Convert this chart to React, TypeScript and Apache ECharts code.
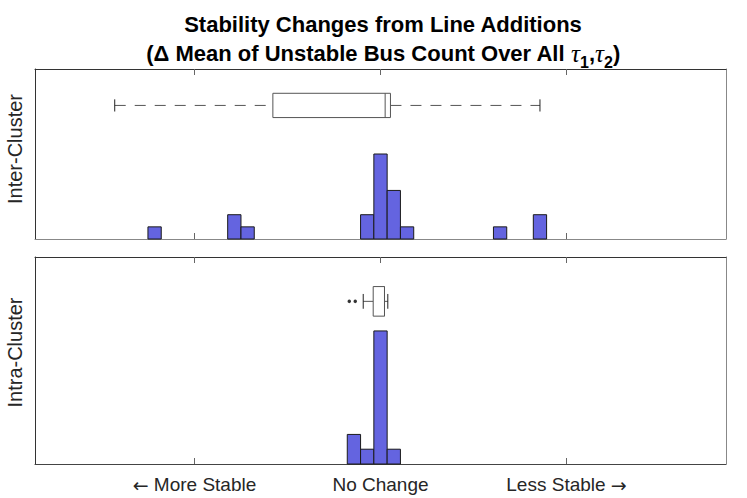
import React, { useEffect, useRef } from "react";
import * as echarts from "echarts";

// Histogram bins (bin-index units, width 1) and counts
const interBins = [-17, -11, -10, -1, 0, 1, 2, 9, 12];
const interCounts = [1, 2, 1, 2, 7, 4, 1, 1, 2];
const intraBins = [-2, -1, 0, 1];
const intraCounts = [2, 1, 9, 1];

// Box plot stats: [whiskerLow, q1, median, q3, whiskerHigh]
const interBox = [-20, -8.1, 0.35, 0.75, 12];
const intraBox = [-1.3, -0.55, 0.3, 0.3, 0.55];
const intraOutliers = [-2.35, -1.9];

// Tick labels
const tickValues = [-14, 0, 14];
const tickLabels = ["{a|←} More Stable", "No Change", "Less Stable {a|→}"];

const panelNames = ["Inter-Cluster", "Intra-Cluster"];

const X_MIN = -26;
const X_MAX = 26;
const Y_MAX = 14;
const BOX_Y = 11;
const BOX_HALF = 1;
const CAP_HALF = 0.5;

const FONT = "'Liberation Sans', Arial, Helvetica, sans-serif";
const BAR_FILL = "#6464e0";

function histRender(params: any, api: any) {
  const x = api.value(0);
  const c = api.value(1);
  const p0 = api.coord([x - 0.5, 0]);
  const p1 = api.coord([x + 0.5, c]);
  return {
    type: "rect",
    shape: { x: p0[0], y: p1[1], width: p1[0] - p0[0], height: p0[1] - p1[1] },
    style: { fill: BAR_FILL, stroke: "#1a1a1a", lineWidth: 1 },
  };
}

function boxRender(params: any, api: any) {
  const mn = api.value(0);
  const q1 = api.value(1);
  const md = api.value(2);
  const q3 = api.value(3);
  const mx = api.value(4);
  const pMin = api.coord([mn, BOX_Y]);
  const pQ1 = api.coord([q1, BOX_Y]);
  const pMd = api.coord([md, BOX_Y]);
  const pQ3 = api.coord([q3, BOX_Y]);
  const pMax = api.coord([mx, BOX_Y]);
  const top = api.coord([q1, BOX_Y + BOX_HALF])[1];
  const bot = api.coord([q1, BOX_Y - BOX_HALF])[1];
  const capT = api.coord([mn, BOX_Y + CAP_HALF])[1];
  const capB = api.coord([mn, BOX_Y - CAP_HALF])[1];
  const y = pMin[1];
  const dash = { stroke: "#555", lineWidth: 1, lineDash: [11, 9] };
  const solid = { stroke: "#222", lineWidth: 1 };
  return {
    type: "group",
    children: [
      { type: "line", shape: { x1: pMin[0], y1: y, x2: pQ1[0], y2: y }, style: dash },
      { type: "line", shape: { x1: pQ3[0], y1: y, x2: pMax[0], y2: y }, style: dash },
      { type: "line", shape: { x1: pMin[0], y1: capT, x2: pMin[0], y2: capB }, style: solid },
      { type: "line", shape: { x1: pMax[0], y1: capT, x2: pMax[0], y2: capB }, style: solid },
      {
        type: "rect",
        shape: { x: pQ1[0], y: top, width: pQ3[0] - pQ1[0], height: bot - top },
        style: { fill: "#fff", stroke: "#555", lineWidth: 1 },
      },
      { type: "line", shape: { x1: pMd[0], y1: top, x2: pMd[0], y2: bot }, style: { stroke: "#555", lineWidth: 1 } },
    ],
  };
}

function makeX(gridIndex: number, position: string, labels: boolean, color: string) {
  return {
    type: "value",
    gridIndex,
    position,
    min: X_MIN,
    max: X_MAX,
    axisLine: { show: true, onZero: false, lineStyle: { color, width: 1 } },
    axisTick: {
      show: true,
      inside: true,
      length: 6,
      customValues: tickValues,
      lineStyle: { color: "#666" },
    },
    axisLabel: {
      show: labels,
      customValues: tickValues,
      margin: 11,
      fontSize: 19,
      fontFamily: FONT,
      color: "#262626",
      rich: {
        a: { fontSize: 19, fontFamily: "'DejaVu Sans', sans-serif", color: "#262626" },
      },
      formatter: (v: number) => {
        const i = tickValues.indexOf(v);
        return i >= 0 ? tickLabels[i] : "";
      },
    },
    splitLine: { show: false },
  };
}

function makeY(gridIndex: number, position: string, name: string, color: string, pad: number[]) {
  return {
    type: "value",
    gridIndex,
    position,
    min: 0,
    max: Y_MAX,
    name,
    nameLocation: "middle",
    nameRotate: 90,
    nameGap: 10,
    nameTextStyle: { fontSize: 20, fontFamily: FONT, color: "#262626", padding: pad },
    axisLine: { show: true, onZero: false, lineStyle: { color, width: 1 } },
    axisTick: { show: false },
    axisLabel: { show: false },
    splitLine: { show: false },
  };
}

export default function App() {
  const ref = useRef<HTMLDivElement>(null);
  useEffect(() => {
    if (!ref.current) return;
    const chart = echarts.init(ref.current, undefined, { renderer: "svg" });
    const option: any = {
      animation: false,
      backgroundColor: "#fff",
      title: [
        {
          text: "Stability Changes from Line Additions",
          left: 378,
          textAlign: "center",
          top: 8,
          textStyle: { fontSize: 22, fontWeight: "bold", fontFamily: FONT, color: "#000" },
        },
        {
          text: "(Δ Mean of Unstable Bus Count Over All {t|τ}{s|1},{t|τ}{s|2})",
          left: 378,
          textAlign: "center",
          top: 32,
          textStyle: {
            fontSize: 22,
            fontWeight: "bold",
            fontFamily: FONT,
            color: "#000",
            rich: {
              t: {
                fontSize: 25,
                fontStyle: "italic",
                fontWeight: "normal",
                fontFamily: "'Liberation Serif', 'DejaVu Serif', serif",
                color: "#000",
              },
              s: {
                fontSize: 16,
                fontWeight: "bold",
                fontFamily: FONT,
                color: "#000",
                padding: [17, 0, 0, 0],
              },
            },
          },
        },
      ],
      grid: [
        { left: 35, top: 69, width: 691, height: 170, containLabel: false, outerBoundsMode: "none" },
        { left: 35, top: 257, width: 691, height: 207, containLabel: false, outerBoundsMode: "none" },
      ],
      xAxis: [
        makeX(0, "bottom", false, "#888"),
        makeX(0, "top", false, "#333"),
        makeX(1, "bottom", true, "#444"),
        makeX(1, "top", false, "#333"),
      ],
      yAxis: [
        makeY(0, "left", panelNames[0], "#333", [0, 0, 0, 10]),
        makeY(0, "right", "", "#888", [0]),
        makeY(1, "left", panelNames[1], "#333", [0, 0, 0, 16]),
        makeY(1, "right", "", "#888", [0]),
      ],
      series: [
        {
          type: "custom",
          xAxisIndex: 0,
          yAxisIndex: 0,
          renderItem: histRender,
          encode: { x: 0, y: 1 },
          data: interBins.map((b, i) => [b, interCounts[i]]),
          clip: false,
        },
        {
          type: "custom",
          xAxisIndex: 0,
          yAxisIndex: 0,
          renderItem: boxRender,
          encode: { x: [0, 1, 2, 3, 4] },
          data: [interBox],
          clip: false,
        },
        {
          type: "custom",
          xAxisIndex: 2,
          yAxisIndex: 2,
          renderItem: histRender,
          encode: { x: 0, y: 1 },
          data: intraBins.map((b, i) => [b, intraCounts[i]]),
          clip: false,
        },
        {
          type: "custom",
          xAxisIndex: 2,
          yAxisIndex: 2,
          renderItem: boxRender,
          encode: { x: [0, 1, 2, 3, 4] },
          data: [intraBox],
          clip: false,
        },
        {
          type: "scatter",
          xAxisIndex: 2,
          yAxisIndex: 2,
          symbol: "circle",
          symbolSize: 3.5,
          itemStyle: { color: "#000" },
          data: intraOutliers.map((v) => [v, BOX_Y]),
        },
      ],
    };
    chart.setOption(option);
    return () => chart.dispose();
  }, []);
  return (
    <div
      ref={ref}
      style={{ position: "fixed", left: 0, top: 0, width: 747, height: 498, background: "#fff" }}
    />
  );
}
